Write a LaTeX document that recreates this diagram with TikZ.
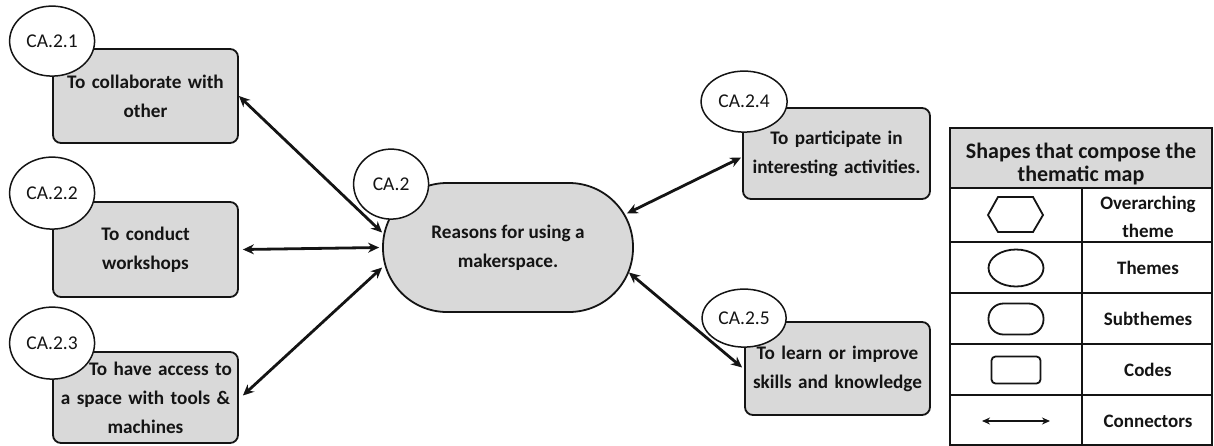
\documentclass[tikz,border=0pt]{standalone}
\usepackage{fontspec}
\setmainfont{Carlito}
\usepackage{tikz}
\usetikzlibrary{arrows.meta, positioning, shapes.geometric}
\definecolor{boxgray}{RGB}{217,217,217}
\definecolor{ink}{RGB}{20,20,20}
\newcommand{\boxfont}{\bfseries\fontsize{19.2}{29}\selectfont}

\begin{document}
\begin{tikzpicture}[x=1pt, y=-1pt, every node/.style={text=ink},
      code/.style={draw=ink, fill=boxgray, rounded corners=8pt, align=center,
                   line width=1.8pt, inner xsep=4pt, text width=177pt, font=\boxfont},
      subtheme/.style={draw=ink, fill=boxgray, rounded corners=64pt, align=center,
                   line width=1.8pt, minimum width=250pt, minimum height=129pt, font=\boxfont},
      tag/.style={ellipse, draw=ink, fill=white, line width=1.5pt, inner sep=0pt,
                  font=\fontsize{19.5}{22}\selectfont},
      link/.style={{Stealth[length=11pt,width=10pt]}-{Stealth[length=11pt,width=10pt]},
                   line width=2.8pt, draw=ink},
      legtxt/.style={align=center, font=\bfseries\fontsize{19}{28}\selectfont}]
    \useasboundingbox (0,0) rectangle (1214,445);

    % codes on the left
    \node[code, minimum height=94pt] (b1) at (145.5,96) {To collaborate with\\other};
    \node[code, minimum height=95pt] (b2) at (145.5,249.5) {To conduct\\workshops};
    \node[code, minimum height=91pt] (b3) at (145.5,397.5)
         {\hspace*{30pt}To have access to\\a space with tools \&\\machines};

    % subtheme
    \node[subtheme] (ctr) at (508,247.5) {Reasons for using a\\makerspace.};

    % codes on the right
    \node[code, minimum height=91pt, text width=179pt] (b4) at (836.5,153.5)
         {To participate in\\interesting activities.};
    \node[code, minimum height=93pt] (b5) at (837.5,368.5)
         {To learn or improve\\skills and knowledge};

    % labels
    \node[tag, minimum width=85pt, minimum height=70pt] (t1) at ([yshift=7pt]b1.north west) {CA.2.1};
    \node[tag, minimum width=85pt, minimum height=72pt] (t2) at ([yshift=8pt]b2.north west) {CA.2.2};
    \node[tag, minimum width=85pt, minimum height=72pt] (t3) at ([yshift=8pt]b3.north west) {CA.2.3};
    \node[tag, minimum width=75pt, minimum height=70pt] (t0) at ([xshift=9pt,yshift=-2pt]ctr.north west) {CA.2};
    \node[tag, minimum width=86pt, minimum height=61pt] (t4) at ([xshift=2pt,yshift=5.5pt]b4.north west) {CA.2.4};
    \node[tag, minimum width=84pt, minimum height=58pt] (t5) at ([yshift=3pt]b5.north west) {CA.2.5};

    % connectors
    \draw[link] (b1.east) -- ([yshift=15pt]ctr.west);
    \draw[link] ([xshift=4pt]b2.east) -- ([xshift=-3pt]ctr.west);
    \draw[link] ([xshift=4pt,yshift=2pt]b3.east) -- ([yshift=-20pt]ctr.west);
    \draw[link] ([xshift=-1pt,yshift=-4pt]b4.west) -- ([xshift=-7pt,yshift=34pt]ctr.east);
    \draw[link] ([xshift=-2pt,yshift=1pt]b5.west) -- ([xshift=-5pt,yshift=-25pt]ctr.east);

    % legend
    \fill[boxgray] (950,128) rectangle (1212,188);
    \draw[ink, line width=1.4pt] (950,128) rectangle (1212,445);
    \foreach \y in {188,242,293,344,395} \draw[ink, line width=1.4pt] (950,\y) -- (1212,\y);
    \draw[ink, line width=1.4pt] (1082,188) -- (1082,445);
    \node[align=center, font=\bfseries\fontsize{22}{23}\selectfont] (lhead) at (1081,164)
         {Shapes that compose the\\thematic map};
    \draw[ink, line width=1.8pt] (988,215) -- (998,197) -- (1033,197) -- (1043,215)
         -- (1033,232) -- (998,232) -- cycle;
    \node[ellipse, draw=ink, line width=1.8pt, minimum width=55pt, minimum height=37pt] (lth) at (1016,268) {};
    \node[draw=ink, line width=1.8pt, rounded corners=15pt, minimum width=55pt, minimum height=31pt] (lsub) at (1016,319) {};
    \node[draw=ink, line width=1.8pt, rounded corners=4pt, minimum width=49pt, minimum height=27pt] (lcode) at (1016,370) {};
    \coordinate (la) at (982,421);
    \coordinate (lb) at (1050,421);
    \draw[{Stealth[length=8pt,width=7pt]}-{Stealth[length=8pt,width=7pt]}, line width=2pt, ink] (la) -- (lb);
    \node[legtxt] (l1) at (1148,217) {Overarching\\theme};
    \node[legtxt] (l2) at (1148,268) {Themes};
    \node[legtxt] (l3) at (1148,319) {Subthemes};
    \node[legtxt] (l4) at (1148,370) {Codes};
    \node[legtxt] (l5) at (1148,421) {Connectors};
  \end{tikzpicture}
\end{document}
